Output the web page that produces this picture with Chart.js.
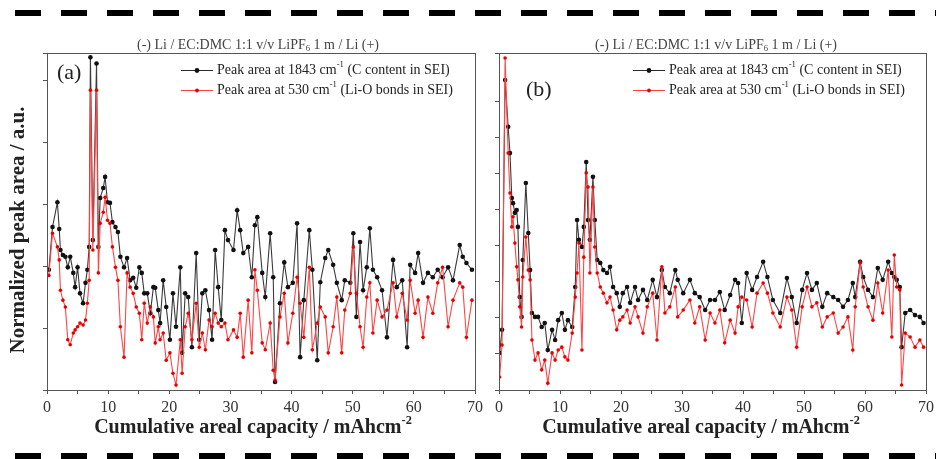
<!DOCTYPE html>
<html>
<head>
<meta charset="utf-8">
<script src="https://cdn.jsdelivr.net/npm/chart.js@4.4.1/dist/chart.umd.min.js"></script>
<style>
body { margin: 0; background: #fff; }
#wrap { position: relative; width: 936px; height: 459px; overflow: hidden; background: #fff; }
canvas { position: absolute; top: 0; }
.dash { position: absolute; left: 15px; width: 921px; height: 6px;
        background: repeating-linear-gradient(to right, #000 0 26px, transparent 26px 46px); }
</style>
</head>
<body>
<div id="wrap">
  <div class="dash" style="top:10px"></div>
  <canvas id="chartA" width="490" height="459" style="left:0"></canvas>
  <canvas id="chartB" width="456" height="459" style="left:480px"></canvas>
  <div class="dash" style="top:453px"></div>
</div>
<script>
// panel (a) - cumulative capacity and normalized peak areas
const xA = [0.3,0.9,1.7,2.0,2.2,2.6,3.0,3.4,3.8,4.3,
  4.6,5.0,5.4,5.9,6.3,6.6,6.9,7.1,7.5,8.1,
  8.4,8.7,9.2,9.5,9.9,10.3,10.7,11.2,11.6,12.0,
  12.6,13.1,13.6,14.1,14.6,15.1,15.5,15.9,16.4,16.9,
  17.4,17.7,18.2,18.5,19.0,19.5,20.1,20.6,21.1,21.8,
  22.1,22.6,23.1,23.7,24.4,24.9,25.4,25.9,26.5,27.0,
  27.5,28.0,28.5,29.1,29.6,30.5,31.1,31.6,32.1,32.9,
  33.5,34.0,34.4,35.2,35.7,36.5,37.0,37.3,38.1,38.8,
  39.4,40.2,40.9,41.4,42.0,42.9,43.4,44.2,44.7,45.5,
  46.0,46.8,47.4,48.2,48.7,49.6,50.1,50.6,51.2,51.7,
  52.3,52.8,53.3,54.0,54.8,55.6,56.6,57.2,58.1,58.9,
  59.4,60.2,60.7,61.5,62.3,63.1,63.9,64.7,65.6,66.4,
  67.5,68.0,68.6,69.5];
const carbonA = [1.94,2.63,3.03,2.60,2.26,2.18,2.15,1.98,2.15,1.89,
  1.66,1.98,1.56,1.40,1.73,1.94,2.31,5.37,2.42,5.27,
  2.31,3.10,3.26,3.44,3.03,3.02,2.71,2.63,2.55,2.15,
  1.98,2.13,1.77,1.81,1.65,1.98,1.89,1.56,1.56,1.24,
  1.66,1.65,1.29,1.08,1.77,1.34,0.81,1.56,1.02,1.98,
  0.60,1.56,1.50,0.69,2.21,0.81,1.56,1.61,1.29,0.81,
  2.26,1.66,1.13,2.58,2.42,2.26,2.90,2.58,2.21,2.31,
  1.82,2.66,2.79,1.89,1.50,2.53,1.82,0.13,1.40,2.06,
  1.66,1.73,2.69,0.53,1.45,2.58,1.94,0.48,1.74,2.13,
  2.26,2.02,1.73,1.45,1.77,1.73,2.53,1.18,2.39,1.61,
  1.98,2.61,1.94,1.82,1.61,0.85,2.10,1.66,1.77,0.69,
  2.02,1.89,2.21,1.73,1.89,1.82,1.94,1.82,1.98,1.77,
  2.34,2.15,2.05,1.94];
const liOA = [1.85,2.53,2.31,2.10,1.61,1.45,1.34,0.81,0.73,0.92,
  0.97,1.02,1.08,1.05,1.13,1.40,1.77,4.84,2.26,4.84,
  1.89,2.69,2.87,3.11,2.74,2.69,2.31,1.98,1.77,1.02,
  0.53,1.89,1.66,1.56,1.34,1.24,0.81,1.40,1.08,1.34,
  1.18,0.76,1.02,0.81,0.92,0.48,0.60,0.27,0.08,0.81,
  0.27,1.02,1.24,0.81,1.40,0.69,0.92,0.65,1.13,1.02,
  1.24,1.08,1.02,1.08,0.81,0.97,0.85,1.24,0.53,1.45,
  0.60,1.94,1.61,0.76,0.65,1.08,0.32,0.16,1.18,1.56,
  0.76,1.24,1.82,1.40,0.85,1.98,0.65,1.08,1.34,1.18,
  0.60,1.02,1.50,0.60,1.29,1.56,2.31,1.56,1.02,0.69,
  1.50,1.73,0.92,1.45,1.18,1.29,1.73,1.18,1.56,1.13,
  1.77,1.24,1.45,0.85,1.50,1.24,1.73,1.98,1.02,1.45,
  1.73,1.66,0.85,1.45];

// panel (b)
const xB = [0.1,0.5,1.0,1.5,1.8,2.1,2.3,2.6,2.9,3.1,
  3.4,3.7,3.9,4.4,4.8,5.1,5.4,5.9,6.4,7.0,
  7.5,8.0,8.7,9.2,9.7,10.3,10.8,11.3,12.0,12.5,
  12.8,13.1,13.6,13.9,14.3,14.6,14.9,15.4,15.7,16.1,
  16.6,17.1,17.7,18.2,18.7,19.3,19.8,20.3,21.0,21.5,
  22.3,22.8,23.6,24.3,25.2,25.9,26.7,27.2,28.0,28.9,
  29.3,30.2,31.3,32.1,32.9,33.8,34.6,35.4,36.2,37.0,
  37.9,38.7,39.2,39.8,40.6,41.5,42.3,43.3,44.0,44.9,
  46.1,47.2,48.0,48.8,49.7,50.5,51.3,52.1,53.0,53.8,
  54.8,55.6,56.4,57.2,58.0,58.4,59.2,59.7,60.5,61.3,
  62.1,62.9,63.8,64.4,64.8,65.2,65.7,66.0,66.6,67.4,
  68.2,69.0,69.6];
const carbonB = [1.03,1.67,8.61,7.31,6.58,5.33,5.19,4.92,5.00,4.53,
  2.58,2.03,3.61,5.75,4.36,3.33,2.14,2.03,2.03,1.75,
  1.86,1.11,1.67,1.39,1.94,2.14,1.67,1.94,1.75,2.86,
  4.72,4.17,3.97,4.53,6.33,4.72,4.17,5.92,4.72,3.61,
  3.53,3.33,3.25,3.42,2.86,2.69,2.31,2.69,2.86,2.42,
  2.86,2.50,2.78,2.50,3.06,2.58,3.33,2.86,2.69,3.33,
  3.06,2.69,3.06,2.69,2.58,2.22,2.50,2.50,2.72,2.22,
  2.64,3.06,2.97,1.86,3.25,2.78,3.14,3.56,3.14,2.50,
  2.14,3.11,2.58,1.86,2.78,3.25,2.78,2.97,2.31,2.69,
  2.58,2.50,2.31,2.50,2.97,2.58,3.56,3.14,2.78,2.58,
  3.39,3.06,3.56,3.25,3.14,3.06,2.86,1.19,2.14,2.22,
  2.08,2.03,1.86];
const liOB = [0.36,1.25,9.22,6.58,5.47,4.53,4.81,4.08,3.42,3.06,
  2.31,1.75,3.14,4.25,3.33,3.06,1.39,0.83,1.03,0.56,
  0.83,0.19,1.03,0.83,1.11,1.19,0.92,0.83,1.58,2.58,
  3.25,4.08,1.11,3.69,6.03,5.64,3.25,5.64,3.97,3.25,
  2.86,2.69,2.42,2.58,2.22,1.67,1.94,2.03,2.22,1.86,
  2.31,2.03,1.58,2.31,2.69,1.39,3.42,2.14,2.31,2.86,
  2.03,2.22,2.50,1.86,2.31,1.39,2.14,1.86,2.22,1.31,
  1.94,1.58,2.31,2.58,2.50,1.75,2.69,2.97,2.69,2.14,
  1.75,2.58,2.22,1.19,2.31,2.86,2.31,2.42,1.75,2.03,
  2.14,1.58,1.75,2.03,1.11,2.31,3.53,2.86,2.31,1.94,
  2.97,2.14,3.33,1.47,3.75,2.86,2.78,0.14,1.58,1.47,
  1.19,1.39,1.19];

const xTickLabels = [0, 10, 20, 30, 40, 50, 60, 70];

const SERIF = "'Liberation Serif', 'DejaVu Serif', serif";

// text with sub/superscripts: parts = [[text, mode]] mode 1 = sup, -1 = sub
function drawRich(ctx, parts, x, y, size, weight, align, color) {
    ctx.textBaseline = 'middle';
    ctx.fillStyle = color;
    let w = 0;
    parts.forEach(([t, m]) => {
        ctx.font = `${weight} ${m ? size * 0.62 : size}px ${SERIF}`;
        w += ctx.measureText(t).width;
    });
    let cx = align === 'center' ? x - w / 2 : x;
    parts.forEach(([t, m]) => {
        ctx.font = `${weight} ${m ? size * 0.62 : size}px ${SERIF}`;
        const dy = m === 1 ? -size * 0.38 : (m === -1 ? size * 0.3 : 0);
        ctx.textAlign = 'left';
        ctx.fillText(t, cx, y + dy);
        cx += ctx.measureText(t).width;
    });
}

function decor(o) {
    return {
        id: 'decor',
        afterDraw(chart) {
            const ctx = chart.ctx, a = chart.chartArea;
            ctx.save();
            // box around plot
            ctx.strokeStyle = '#555';
            ctx.lineWidth = 1;
            ctx.strokeRect(Math.round(a.left) + 0.5, Math.round(a.top) + 0.5,
                Math.round(a.right - a.left), Math.round(a.bottom - a.top));

            // title
            drawRich(ctx, [['(-) Li / EC:DMC 1:1 v/v LiPF', 0], ['6', -1], [' 1 m / Li (+)', 0]],
                o.titleX, 45, 14, 'normal', 'center', '#444');

            // legend
            const rows = [
                { c: '#2a2a2a', d: '#111', r: 2.4, parts: [['Peak area at 1843 cm', 0], ['-1', 1], [' (C content in SEI)', 0]] },
                { c: '#ff4040', d: '#e60000', r: 1.9, parts: [['Peak area at 530 cm', 0], ['-1', 1], [' (Li-O bonds in SEI)', 0]] }
            ];
            rows.forEach((row, i) => {
                const y = 70 + i * 20;
                ctx.strokeStyle = row.c;
                ctx.lineWidth = 1;
                ctx.beginPath();
                ctx.moveTo(o.legX, y + 0.5);
                ctx.lineTo(o.legX + 32, y + 0.5);
                ctx.stroke();
                ctx.fillStyle = row.d;
                ctx.beginPath();
                ctx.arc(o.legX + 16, y + 0.5, row.r, 0, Math.PI * 2);
                ctx.fill();
                drawRich(ctx, row.parts, o.legX + 36, y, 14, 'normal', 'left', '#222');
            });

            // panel letter
            ctx.font = `normal 22px ${SERIF}`;
            ctx.fillStyle = '#222';
            ctx.textAlign = 'left';
            ctx.textBaseline = 'middle';
            ctx.fillText(o.label, o.labelX, o.labelY);

            // x axis title
            drawRich(ctx, [['Cumulative areal capacity / mAhcm', 0], ['-2', 1]],
                o.xTitleX, 428, 20, 'bold', 'center', '#222');

            // y axis title, only on left panel
            if (o.yTitle) {
                ctx.translate(19, 230);
                ctx.rotate(-Math.PI / 2);
                ctx.font = `bold 21px ${SERIF}`;
                ctx.fillStyle = '#222';
                ctx.textAlign = 'center';
                ctx.textBaseline = 'middle';
                ctx.fillText(o.yTitle, 0, 0);
            }
            ctx.restore();
        }
    };
}

function makeChart(id, xs, carbon, liO, yMax, padding, o) {
    new Chart(document.getElementById(id), {
        type: 'line',
        data: {
            datasets: [{
                label: 'Peak area at 1843 cm-1 (C content in SEI)',
                data: xs.map((x, i) => ({ x: x, y: carbon[i] })),
                borderColor: '#3a3a3a',
                borderWidth: 1.1,
                pointRadius: 2.3,
                pointBackgroundColor: '#111',
                pointBorderWidth: 0,
                tension: 0,
                order: 2
            }, {
                label: 'Peak area at 530 cm-1 (Li-O bonds in SEI)',
                data: xs.map((x, i) => ({ x: x, y: liO[i] })),
                borderColor: '#ff4545',
                borderWidth: 1.1,
                pointRadius: 1.8,
                pointBackgroundColor: '#e60000',
                pointBorderWidth: 0,
                tension: 0,
                order: 1
            }]
        },
        options: {
            responsive: false,
            animation: false,
            layout: { padding: padding },
            plugins: { legend: { display: false }, tooltip: { enabled: false } },
            scales: {
                x: {
                    type: 'linear',
                    min: 0,
                    max: 70,
                    ticks: {
                        stepSize: 5,
                        autoSkip: false,
                        maxRotation: 0,
                        padding: 4,
                        color: '#333',
                        font: { family: SERIF, size: 16 },
                        callback: v => xTickLabels.includes(v) ? v : ''
                    },
                    grid: { drawOnChartArea: false, tickLength: 4, tickColor: '#555' },
                    border: { display: false },
                    afterFit: s => { s.height = 30; s.paddingLeft = 0; s.paddingRight = 0; }
                },
                y: {
                    min: 0,
                    max: yMax,
                    ticks: { display: false, stepSize: 1 },
                    grid: { drawOnChartArea: false, tickLength: 4, tickColor: '#555' },
                    border: { display: false },
                    afterFit: s => { s.width = 6; }
                }
            }
        },
        plugins: [decor(o)]
    });
}

makeChart('chartA', xA, carbonA, liOA, 5.44,
    { left: 41, right: 15, top: 53, bottom: 39 },
    { titleX: 258, legX: 181, label: '(a)', labelX: 57, labelY: 73, xTitleX: 253,
      yTitle: 'Normalized peak area / a.u.' });

makeChart('chartB', xB, carbonB, liOB, 9.36,
    { left: 13, right: 10, top: 53, bottom: 39 },
    { titleX: 236, legX: 153, label: '(b)', labelX: 46, labelY: 90, xTitleX: 221 });
</script>
</body>
</html>
